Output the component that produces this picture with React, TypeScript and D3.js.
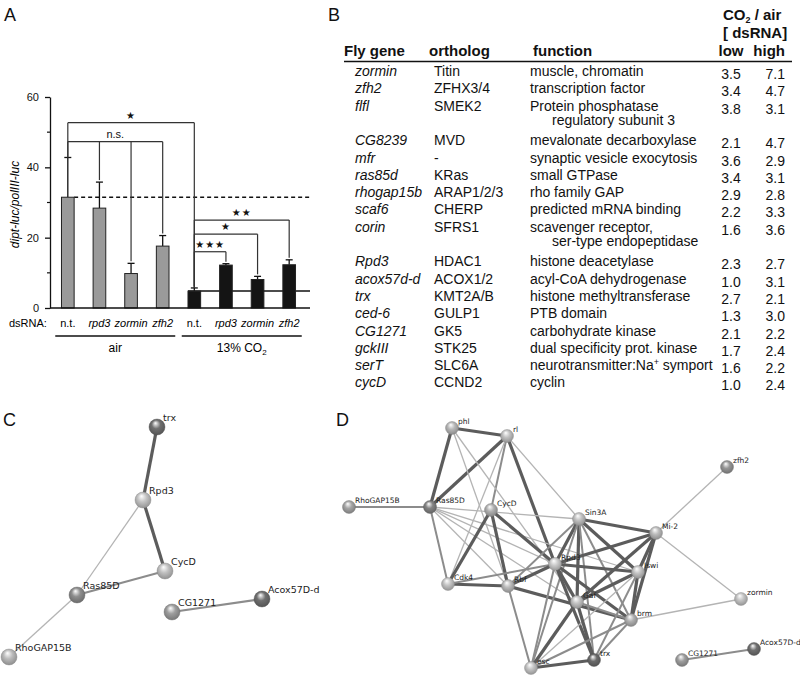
import * as d3 from "d3";
import { useEffect, useRef } from "react";

// ---- A: dipt-luc reporter, 8 dsRNA treatments
const dsrnaNames = ["n.t.", "rpd3", "zormin", "zfh2", "n.t.", "rpd3", "zormin", "zfh2"];
const gasGroups = ["air", "air", "air", "air", "13% CO2", "13% CO2", "13% CO2", "13% CO2"];
const lucMeans = [31.5, 28.4, 9.8, 17.6, 4.8, 12.2, 8.1, 12.3];
const lucErrors = [11.3, 7.4, 2.9, 3.0, 0.9, 0.4, 0.9, 1.4];
const yTicks = [0, 20, 40, 60];
const yMinorTicks = [10, 30, 50];
// brackets: reference bar, compared bars, height in y units, label
const sigFrom = [0, 0, 4, 4, 4];
const sigTo = [[4], [1, 2, 3], [7], [6], [5]];
const sigLevel = [52.7, 47.3, 25.0, 21.0, 16.0];
const sigLabel = ["★", "n.s.", "★★", "★", "★★★"];

// ---- B: table
const flyGenes = ["zormin", "zfh2", "flfl", "CG8239", "mfr", "ras85d", "rhogap15b", "scaf6", "corin", "Rpd3", "acox57d-d", "trx", "ced-6", "CG1271", "gckIII", "serT", "cycD"];
const orthologs = ["Titin", "ZFHX3/4", "SMEK2", "MVD", "-", "KRas", "ARAP1/2/3", "CHERP", "SFRS1", "HDAC1", "ACOX1/2", "KMT2A/B", "GULP1", "GK5", "STK25", "SLC6A", "CCND2"];
const geneFunctions = [
  ["muscle, chromatin"],
  ["transcription factor"],
  ["Protein phosphatase", "regulatory subunit 3"],
  ["mevalonate decarboxylase"],
  ["synaptic vesicle exocytosis"],
  ["small GTPase"],
  ["rho family GAP"],
  ["predicted mRNA binding"],
  ["scavenger receptor,", "ser-type endopeptidase"],
  ["histone deacetylase"],
  ["acyl-CoA dehydrogenase"],
  ["histone methyltransferase"],
  ["PTB domain"],
  ["carbohydrate kinase"],
  ["dual specificity prot. kinase"],
  ["neurotransmitter:Na⁺ symport"],
  ["cyclin"],
];
const lowRatio = ["3.5", "3.4", "3.8", "2.1", "3.6", "3.4", "2.9", "2.2", "1.6", "2.3", "1.0", "2.7", "1.3", "2.1", "1.7", "1.6", "1.0"];
const highRatio = ["7.1", "4.7", "3.1", "4.7", "2.9", "3.1", "2.8", "3.3", "3.6", "2.7", "3.1", "2.1", "3.0", "2.2", "2.4", "2.2", "2.4"];

// ---- C / D: interaction networks (layout units, tone 0 = light .. 1 = dark)
const netCNodes = [
  { id: "trx", x: 157, y: 27, tone: 0.75 },
  { id: "Rpd3", x: 143, y: 100, tone: 0.2 },
  { id: "CycD", x: 165, y: 171, tone: 0.22 },
  { id: "Ras85D", x: 77, y: 195, tone: 0.55 },
  { id: "RhoGAP15B", x: 9, y: 257, tone: 0.25 },
  { id: "CG1271", x: 172, y: 212, tone: 0.45 },
  { id: "Acox57D-d", x: 262, y: 199, tone: 0.75 },
];
const netCEdges = [
  ["trx", "Rpd3", 3], ["Rpd3", "CycD", 3], ["Rpd3", "Ras85D", 1],
  ["Ras85D", "CycD", 2], ["Ras85D", "RhoGAP15B", 1], ["CG1271", "Acox57D-d", 2],
];
const netDNodes = [
  { id: "phl", x: 112, y: 28, tone: 0.28 },
  { id: "rl", x: 167, y: 36, tone: 0.22 },
  { id: "zfh2", x: 387, y: 67, tone: 0.5 },
  { id: "RhoGAP15B", x: 9, y: 107, tone: 0.4 },
  { id: "Ras85D", x: 90, y: 107, tone: 0.62 },
  { id: "CycD", x: 151, y: 110, tone: 0.32 },
  { id: "Sin3A", x: 239, y: 119, tone: 0.22 },
  { id: "Mi-2", x: 316, y: 133, tone: 0.25 },
  { id: "Rpd3", x: 215, y: 164, tone: 0.15 },
  { id: "Iswi", x: 298, y: 172, tone: 0.2 },
  { id: "Cdk4", x: 108, y: 184, tone: 0.2 },
  { id: "Rbf", x: 168, y: 186, tone: 0.25 },
  { id: "zormin", x: 401, y: 199, tone: 0.2 },
  { id: "Gaf", x: 237, y: 202, tone: 0.2 },
  { id: "brm", x: 291, y: 220, tone: 0.32 },
  { id: "esc", x: 191, y: 268, tone: 0.2 },
  { id: "trx", x: 254, y: 260, tone: 0.78 },
  { id: "CG1271", x: 342, y: 260, tone: 0.45 },
  { id: "Acox57D-d", x: 414, y: 249, tone: 0.75 },
];
const netDEdges = [
  ["phl", "rl", 3], ["phl", "Ras85D", 3], ["rl", "Ras85D", 3], ["rl", "CycD", 2], ["rl", "Cdk4", 1],
  ["rl", "Rpd3", 3], ["rl", "Sin3A", 1], ["phl", "Rbf", 1], ["phl", "Gaf", 1],
  ["RhoGAP15B", "Ras85D", 2],
  ["Ras85D", "Sin3A", 1], ["Ras85D", "Cdk4", 2], ["Ras85D", "Rbf", 1], ["Ras85D", "Rpd3", 1],
  ["Ras85D", "Gaf", 1], ["Ras85D", "Iswi", 1],
  ["CycD", "Cdk4", 3], ["CycD", "Rbf", 3], ["CycD", "Rpd3", 3],
  ["Cdk4", "Rbf", 3], ["Cdk4", "Rpd3", 2],
  ["Rbf", "Rpd3", 3], ["Rbf", "Sin3A", 2], ["Rbf", "brm", 3], ["Rbf", "esc", 2],
  ["Sin3A", "Mi-2", 3], ["Sin3A", "Rpd3", 3], ["Sin3A", "Gaf", 3], ["Sin3A", "Iswi", 3],
  ["Sin3A", "brm", 2], ["Sin3A", "trx", 2], ["Sin3A", "esc", 2],
  ["Mi-2", "Rpd3", 3], ["Mi-2", "Iswi", 3], ["Mi-2", "brm", 3], ["Mi-2", "Gaf", 3],
  ["Mi-2", "zfh2", 1], ["Mi-2", "zormin", 1],
  ["Rpd3", "Iswi", 3], ["Rpd3", "Gaf", 3], ["Rpd3", "brm", 3], ["Rpd3", "trx", 3], ["Rpd3", "esc", 2],
  ["Iswi", "Gaf", 3], ["Iswi", "brm", 3], ["Iswi", "trx", 2], ["Iswi", "esc", 1],
  ["Gaf", "trx", 3], ["Gaf", "esc", 3], ["Gaf", "brm", 2],
  ["brm", "trx", 2], ["brm", "esc", 2], ["brm", "zormin", 1],
  ["esc", "trx", 3],
  ["CG1271", "Acox57D-d", 2],
];

const SANS = "'Liberation Sans', Arial, Helvetica, sans-serif";
const VERD = "'DejaVu Sans', Verdana, sans-serif";

function drawBars(g) {
  const y = d3.scaleLinear().domain([0, 60]).range([308, 97]);
  const x = d3
    .scaleBand()
    .domain(d3.range(dsrnaNames.length))
    .range([52, 305])
    .paddingInner(0.6)
    .paddingOuter(0.3);
  const bw = x.bandwidth();
  const cx = (i) => x(i) + bw / 2;

  // y axis
  const axis = g
    .append("g")
    .attr("transform", "translate(50,0)")
    .call(d3.axisLeft(y).tickValues(yTicks).tickSize(5).tickSizeOuter(0).tickPadding(6));
  axis.select(".domain").attr("stroke", "#111").attr("stroke-width", 1.3);
  axis.selectAll(".tick line").attr("stroke", "#111").attr("stroke-width", 1.3);
  axis.selectAll("text").attr("font-family", SANS).attr("font-size", 11).attr("fill", "#111");
  g.append("g")
    .selectAll("line")
    .data(yMinorTicks)
    .join("line")
    .attr("x1", 47)
    .attr("x2", 50)
    .attr("y1", (d) => y(d))
    .attr("y2", (d) => y(d))
    .attr("stroke", "#111")
    .attr("stroke-width", 1.2);

  g.append("text")
    .attr("transform", `translate(19,${y(30) + 2}) rotate(-90)`)
    .attr("text-anchor", "middle")
    .attr("font-family", SANS)
    .attr("font-style", "italic")
    .attr("font-size", 12)
    .text("dipt-luc/polIII-luc");

  // reference lines
  g.append("line")
    .attr("x1", x(0) + bw)
    .attr("x2", 310)
    .attr("y1", y(lucMeans[0]))
    .attr("y2", y(lucMeans[0]))
    .attr("stroke", "#111")
    .attr("stroke-width", 1.5)
    .attr("stroke-dasharray", "4,3");
  g.append("line")
    .attr("x1", x(4))
    .attr("x2", 310)
    .attr("y1", y(lucMeans[4]))
    .attr("y2", y(lucMeans[4]))
    .attr("stroke", "#111")
    .attr("stroke-width", 1.5);

  // error bars
  const err = g.append("g").attr("stroke", "#111").attr("stroke-width", 1.3);
  err.selectAll("line.v")
    .data(lucMeans)
    .join("line")
    .attr("class", "v")
    .attr("x1", (d, i) => cx(i))
    .attr("x2", (d, i) => cx(i))
    .attr("y1", (d) => y(d))
    .attr("y2", (d, i) => y(d + lucErrors[i]));
  err.selectAll("line.c")
    .data(lucMeans)
    .join("line")
    .attr("class", "c")
    .attr("x1", (d, i) => cx(i) - 3.5)
    .attr("x2", (d, i) => cx(i) + 3.5)
    .attr("y1", (d, i) => y(d + lucErrors[i]))
    .attr("y2", (d, i) => y(d + lucErrors[i]));

  // bars
  g.append("g")
    .selectAll("rect")
    .data(lucMeans)
    .join("rect")
    .attr("x", (d, i) => x(i))
    .attr("y", (d) => y(d))
    .attr("width", bw)
    .attr("height", (d) => y(0) - y(d))
    .attr("fill", (d, i) => (gasGroups[i] === "air" ? "#9a9a9a" : "#141414"))
    .attr("stroke", "#222")
    .attr("stroke-width", 1);

  // x axis
  g.append("line")
    .attr("x1", 50)
    .attr("x2", 310)
    .attr("y1", y(0))
    .attr("y2", y(0))
    .attr("stroke", "#111")
    .attr("stroke-width", 1.5);

  // brackets
  const br = g.append("g").attr("stroke", "#333").attr("stroke-width", 1.2).attr("fill", "none");
  sigFrom.forEach((from, k) => {
    const ly = y(sigLevel[k]);
    const last = d3.max(sigTo[k]);
    br.append("line").attr("x1", cx(from)).attr("x2", cx(last)).attr("y1", ly).attr("y2", ly);
    br.append("line")
      .attr("x1", cx(from))
      .attr("x2", cx(from))
      .attr("y1", ly)
      .attr("y2", y(lucMeans[from] + lucErrors[from]));
    sigTo[k].forEach((t) => {
      br.append("line")
        .attr("x1", cx(t))
        .attr("x2", cx(t))
        .attr("y1", ly)
        .attr("y2", y(lucMeans[t] + lucErrors[t]) - 2);
    });
    const isStar = sigLabel[k] !== "n.s.";
    g.append("text")
      .attr("x", (cx(from) + cx(last)) / 2)
      .attr("y", ly - 4)
      .attr("text-anchor", "middle")
      .attr("font-family", isStar ? VERD : SANS)
      .attr("font-size", isStar ? 10 : 11)
      .attr("letter-spacing", isStar ? 1 : 0)
      .attr("fill", "#111")
      .text(sigLabel[k]);
  });

  // category labels
  g.append("text")
    .attr("x", 9)
    .attr("y", 327)
    .attr("font-family", SANS)
    .attr("font-size", 11)
    .text("dsRNA:");
  g.append("g")
    .selectAll("text")
    .data(dsrnaNames)
    .join("text")
    .attr("x", (d, i) => cx(i))
    .attr("y", 327)
    .attr("text-anchor", "middle")
    .attr("font-family", SANS)
    .attr("font-size", 11)
    .attr("font-style", (d) => (d === "n.t." ? "normal" : "italic"))
    .text((d) => d);

  const groups = Array.from(new Set(gasGroups));
  groups.forEach((grp) => {
    const idx = d3.range(gasGroups.length).filter((i) => gasGroups[i] === grp);
    const mid = (cx(idx[0]) + cx(idx[idx.length - 1])) / 2;
    g.append("line")
      .attr("x1", mid - 60)
      .attr("x2", mid + 60)
      .attr("y1", 336)
      .attr("y2", 336)
      .attr("stroke", "#111")
      .attr("stroke-width", 1.3);
    const t = g.append("text")
      .attr("x", mid)
      .attr("y", 352)
      .attr("text-anchor", "middle")
      .attr("font-family", SANS)
      .attr("font-size", 12);
    if (grp.endsWith("CO2")) {
      t.append("tspan").text(grp.slice(0, -1));
      t.append("tspan").attr("font-size", 8).attr("dy", 3).text("2");
    } else {
      t.text(grp);
    }
  });
}

function writeWithSup(sel, str) {
  const parts = str.split("⁺");
  parts.forEach((p, i) => {
    if (i > 0) {
      sel.append("tspan").attr("font-size", 9).attr("dy", -5).text("+");
      sel.append("tspan").attr("dy", 5).text(p);
    } else {
      sel.append("tspan").text(p);
    }
  });
}

function drawTable(g) {
  const colGene = 355;
  const colOrth = 434;
  const colFn = 530;
  const colLow = 731;
  const colHigh = 785;
  const step = 17.3;
  const hdr = g.append("g").attr("font-family", SANS).attr("font-weight", "bold").attr("font-size", 15).attr("fill", "#111");
  const co2 = hdr.append("text").attr("x", 723).attr("y", 20);
  co2.append("tspan").text("CO");
  co2.append("tspan").attr("font-size", 9).attr("dy", 3).text("2");
  co2.append("tspan").attr("dy", -3).text(" / air");
  hdr.append("text").attr("x", 723).attr("y", 38).text("[ dsRNA]");
  hdr.append("text").attr("x", 344).attr("y", 56).text("Fly gene");
  hdr.append("text").attr("x", 429).attr("y", 56).text("ortholog");
  hdr.append("text").attr("x", 533).attr("y", 56).text("function");
  hdr.append("text").attr("x", colLow).attr("y", 56).attr("text-anchor", "middle").text("low");
  hdr.append("text").attr("x", colHigh).attr("y", 56).attr("text-anchor", "end").text("high");
  g.append("line")
    .attr("x1", 344)
    .attr("x2", 792)
    .attr("y1", 61.5)
    .attr("y2", 61.5)
    .attr("stroke", "#111")
    .attr("stroke-width", 1.6);

  const body = g.append("g").attr("font-family", SANS).attr("font-size", 14).attr("fill", "#111");
  let line = 0;
  flyGenes.forEach((gene, i) => {
    const yy = 76 + step * line;
    body.append("text").attr("x", colGene).attr("y", yy).attr("font-style", "italic").text(gene);
    body.append("text").attr("x", colOrth).attr("y", yy).text(orthologs[i]);
    writeWithSup(body.append("text").attr("x", colFn).attr("y", yy), geneFunctions[i][0]);
    body.append("text").attr("x", colLow).attr("y", yy + 3).attr("text-anchor", "middle").text(lowRatio[i]);
    body.append("text").attr("x", colHigh).attr("y", yy + 3).attr("text-anchor", "end").text(highRatio[i]);
    line += 1;
    if (geneFunctions[i].length > 1) {
      body.append("text")
        .attr("x", colFn + 22)
        .attr("y", 76 + step * line - 3)
        .text(geneFunctions[i][1]);
      line += 1;
    }
  });
}

function drawNetwork(g, defs, nodes, edges, opt) {
  const x = d3.scaleLinear().domain([0, 100]).range([opt.x0, opt.x0 + 100]);
  const y = d3.scaleLinear().domain([0, 100]).range([opt.y0, opt.y0 + 100]);
  const byId = new Map(nodes.map((n) => [n.id, n]));
  const edgeWidth = d3.scaleOrdinal().domain([1, 2, 3]).range([1.3, 2, 3.2]);
  const edgeColor = d3.scaleOrdinal().domain([1, 2, 3]).range(["#b4b4b4", "#8c8c8c", "#5c5c5c"]);
  const shade = d3.scaleLinear().domain([0, 1]).range(["#e2e2e2", "#4a4a4a"]);

  g.append("g")
    .selectAll("line")
    .data(edges)
    .join("line")
    .attr("x1", (d) => x(byId.get(d[0]).x))
    .attr("y1", (d) => y(byId.get(d[0]).y))
    .attr("x2", (d) => x(byId.get(d[1]).x))
    .attr("y2", (d) => y(byId.get(d[1]).y))
    .attr("stroke", (d) => edgeColor(d[2]))
    .attr("stroke-width", (d) => edgeWidth(d[2]));

  nodes.forEach((n, i) => {
    const base = d3.color(shade(n.tone));
    const gid = `${opt.key}-g${i}`;
    const gr = defs.append("radialGradient").attr("id", gid).attr("cx", "50%").attr("cy", "45%").attr("r", "60%").attr("fx", "40%").attr("fy", "25%");
    gr.append("stop").attr("offset", "0%").attr("stop-color", "#ffffff");
    gr.append("stop").attr("offset", "45%").attr("stop-color", base.formatHex());
    gr.append("stop").attr("offset", "100%").attr("stop-color", base.darker(0.9).formatHex());
  });

  g.append("g")
    .selectAll("circle")
    .data(nodes)
    .join("circle")
    .attr("cx", (d) => x(d.x))
    .attr("cy", (d) => y(d.y))
    .attr("r", opt.r)
    .attr("fill", (d, i) => `url(#${opt.key}-g${i})`)
    .attr("stroke", (d) => d3.color(shade(d.tone)).darker(1).formatHex())
    .attr("stroke-width", 0.4);

  g.append("g")
    .selectAll("text")
    .data(nodes)
    .join("text")
    .attr("x", (d) => x(d.x) + opt.dx)
    .attr("y", (d) => y(d.y) + opt.dy)
    .attr("font-family", VERD)
    .attr("font-size", opt.fs)
    .attr("fill", "#222")
    .text((d) => d.id);
}

export default function App() {
  const ref = useRef(null);

  useEffect(() => {
    const svg = d3.select(ref.current);
    svg.selectAll("*").remove();
    const defs = svg.append("defs");
    svg.append("rect").attr("width", 800).attr("height", 677).attr("fill", "#fff");

    const labels = [
      ["A", 4, 21],
      ["B", 328, 21],
      ["C", 3, 426],
      ["D", 336, 426],
    ];
    svg.append("g")
      .selectAll("text")
      .data(labels)
      .join("text")
      .attr("x", (d) => d[1])
      .attr("y", (d) => d[2])
      .attr("font-family", SANS)
      .attr("font-size", 18)
      .attr("fill", "#111")
      .text((d) => d[0]);

    drawBars(svg.append("g"));
    drawTable(svg.append("g"));
    drawNetwork(svg.append("g"), defs, netCNodes, netCEdges, { key: "c", x0: 0, y0: 400, r: 8, dx: 6, dy: -6, fs: 9.5 });
    drawNetwork(svg.append("g"), defs, netDNodes, netDEdges, { key: "d", x0: 340, y0: 400, r: 6.5, dx: 6, dy: -4, fs: 7.5 });
  }, []);

  return (
    <svg
      ref={ref}
      width={800}
      height={677}
      style={{ position: "absolute", left: 0, top: 0, display: "block" }}
    />
  );
}
